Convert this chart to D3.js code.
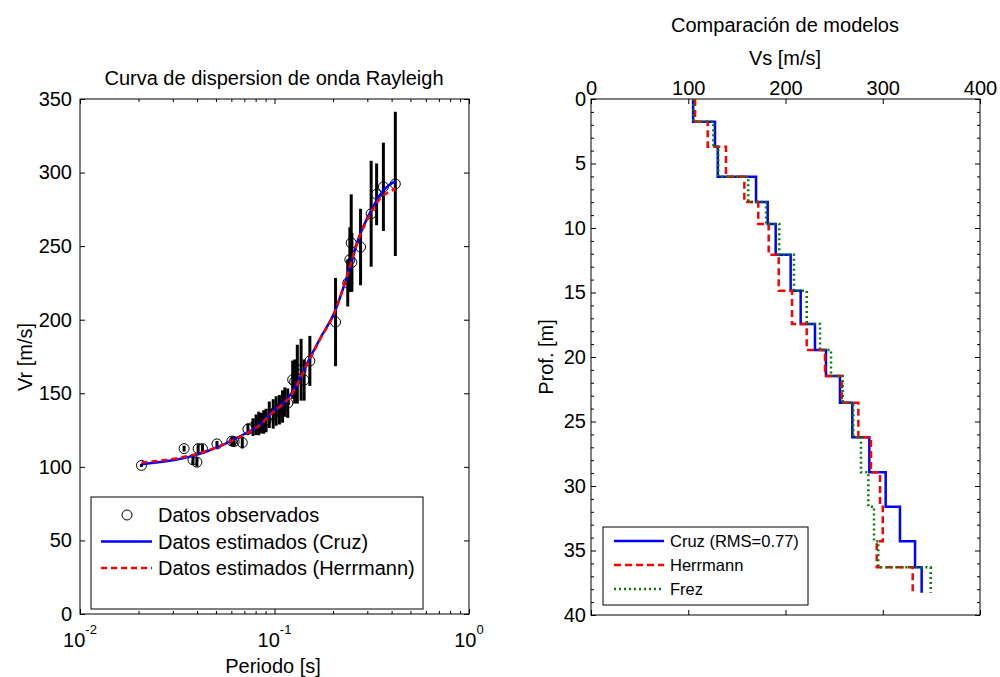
<!DOCTYPE html>
<html>
<script src="https://d3js.org/d3.v7.min.js"></script>

<head>
    <style>
        body {
            margin: 0;
            background-color: #ffffff;
        }

        svg {
            display: block;
        }

        text {
            font-family: "Liberation Sans", Arial, Helvetica, sans-serif;
            fill: #000;
        }
    </style>
</head>

<body>
</body>
<script>
    const width = 1000,
        height = 677;
    const svg = d3.select("body").append("svg").attr("width", width).attr("height", height);
    const FONT = '"Liberation Sans", Arial, Helvetica, sans-serif';

    // observed Rayleigh dispersion points (period [s], Vr [m/s], error bar half length)
    const periods = [0.0207, 0.0343, 0.0381, 0.0399, 0.0405, 0.0426, 0.0506, 0.0604, 0.0620, 0.0683,
        0.0730, 0.0775, 0.0804, 0.0830, 0.0855, 0.0880, 0.0905, 0.0940, 0.0985, 0.1020,
        0.1060, 0.1100, 0.1130, 0.1170, 0.1240, 0.1270, 0.1310, 0.1370, 0.1420, 0.1520,
        0.2060, 0.2380, 0.2440, 0.2480, 0.2500, 0.2770, 0.3140, 0.3350, 0.3630, 0.4180];
    const vrObs = [101, 112.4, 104.8, 103.2, 112.4, 112.4, 115.6, 117.5, 117.2, 116.5,
        125.6, 127, 128.6, 129.5, 129.7, 130.5, 131.5, 135.4, 136, 138,
        138.8, 141, 144, 143.3, 159.2, 158, 163, 166, 159, 172,
        198.4, 225, 240.8, 252.2, 239, 249.4, 272, 285.2, 290.3, 292.3];
    const vrErr = [1, 2, 3, 3, 3, 3, 2, 3, 3, 4,
        4, 6, 7, 8, 7, 8, 8, 9, 10, 10,
        10, 11, 10, 10, 13, 15, 20, 21, 14, 17,
        30, 16, 22, 33, 20, 26, 36, 21, 30, 49];

    // estimated dispersion curves
    const curvePeriods = [0.0207, 0.0447, 0.0689, 0.0838, 0.098, 0.119, 0.157, 0.170, 0.206, 0.233, 0.273, 0.319, 0.345, 0.404, 0.42];
    const vrCruz = [101.8, 110.4, 121.8, 128.6, 137.6, 147.8, 177.6, 186.2, 206.8, 227, 256.7, 276, 284, 293, 294];
    const vrHerrmann = [102.9, 110.8, 121.5, 128.2, 137.0, 147.0, 177, 185.8, 206.5, 227.5, 256, 274.5, 281.5, 288, 289];

    // shear velocity models (layer top depth [m], Vs [m/s])
    const layerTops = [0, 1.76, 3.7, 6.02, 7.98, 9.69, 12.07, 14.86, 17.44, 19.46, 21.47, 23.54, 26.22, 28.94, 31.6, 34.29, 36.3];
    const maxDepth = 38.27;
    const vsCruz = [105, 127.5, 130.3, 169.7, 181.7, 189.9, 205.3, 215.6, 230.3, 241.6, 256, 268.7, 286.2, 303, 317.7, 333.2, 340];
    const vsHerrmann = [107, 120, 138.8, 157.7, 172, 182.7, 193, 206.7, 221.8, 240.6, 257.8, 274.9, 287.9, 297.2, 300, 293.8, 330.8];
    const vsFrez = [105.5, 125.8, 130.9, 161.7, 180, 193.6, 208.7, 221.8, 235.5, 246.8, 258.8, 269.7, 277.6, 285.2, 291, 295.4, 349.3];

    const leftLegend = ["Datos observados", "Datos estimados (Cruz)", "Datos estimados (Herrmann)"];
    const rightLegend = ["Cruz (RMS=0.77)", "Herrmann", "Frez"];

    function styleAxis(g, size) {
        g.attr("font-family", FONT).attr("font-size", size);
        g.select(".domain").remove();
        g.selectAll("line").attr("stroke", "#000");
        g.selectAll("text").attr("fill", "#000");
    }

    // ---------- left: dispersion curve ----------
    const x1 = d3.scaleLog().domain([0.01, 1]).range([80, 469]);
    const y1 = d3.scaleLinear().domain([0, 350]).range([614, 99]);
    const vTicks = d3.range(0, 351, 50);
    const major = [0.01, 0.1, 1];
    const minor = x1.ticks().filter(t => !major.some(m => Math.abs(m - t) < 1e-9));

    svg.append("g").attr("transform", "translate(80,0)")
        .call(d3.axisLeft(y1).tickValues(vTicks).tickSize(-5).tickPadding(8))
        .call(g => styleAxis(g, 20));
    svg.append("g").attr("transform", "translate(469,0)")
        .call(d3.axisRight(y1).tickValues(vTicks).tickSize(-5).tickFormat(""))
        .call(g => styleAxis(g, 20));
    [[d3.axisBottom, 614], [d3.axisTop, 99]].forEach(([ax, yy]) => {
        svg.append("g").attr("transform", `translate(0,${yy})`)
            .call(ax(x1).tickValues(major).tickSize(-5).tickFormat(""))
            .call(g => styleAxis(g, 20));
        svg.append("g").attr("transform", `translate(0,${yy})`)
            .call(ax(x1).tickValues(minor).tickSize(-3).tickFormat(""))
            .call(g => styleAxis(g, 20));
    });
    major.forEach(m => {
        const t = svg.append("text")
            .attr("x", x1(m))
            .attr("y", 647)
            .attr("text-anchor", "middle")
            .attr("font-size", 20);
        t.append("tspan").text("10");
        t.append("tspan").attr("font-size", 13).attr("dy", -13).text(Math.round(Math.log10(m)));
    });

    svg.append("rect")
        .attr("x", 80).attr("y", 99).attr("width", 389).attr("height", 515)
        .attr("fill", "none").attr("stroke", "#000").attr("stroke-width", 1);

    const obs = d3.zip(periods, vrObs, vrErr);
    svg.append("g").selectAll("line")
        .data(obs)
        .enter()
        .append("line")
        .attr("x1", d => x1(d[0])).attr("x2", d => x1(d[0]))
        .attr("y1", d => y1(d[1] - d[2])).attr("y2", d => y1(d[1] + d[2]))
        .attr("stroke", "#000")
        .attr("stroke-width", 3);
    svg.append("g").selectAll("circle")
        .data(obs)
        .enter()
        .append("circle")
        .attr("cx", d => x1(d[0]))
        .attr("cy", d => y1(d[1]))
        .attr("r", 5)
        .attr("fill", "none")
        .attr("stroke", "#000")
        .attr("stroke-width", 1);

    const curveLine = d3.line()
        .x(d => x1(d[0]))
        .y(d => y1(d[1]))
        .curve(d3.curveMonotoneX);
    svg.append("path")
        .attr("d", curveLine(d3.zip(curvePeriods, vrCruz)))
        .attr("fill", "none").attr("stroke", "#0000ff").attr("stroke-width", 2.5);
    svg.append("path")
        .attr("d", curveLine(d3.zip(curvePeriods, vrHerrmann)))
        .attr("fill", "none").attr("stroke", "#ff0000").attr("stroke-width", 2.5)
        .attr("stroke-dasharray", "6,4");

    svg.append("text").attr("x", 274).attr("y", 85).attr("text-anchor", "middle")
        .attr("font-size", 20).text("Curva de dispersion de onda Rayleigh");
    svg.append("text").attr("x", 273).attr("y", 673).attr("text-anchor", "middle")
        .attr("font-size", 20).text("Periodo [s]");
    svg.append("text").attr("transform", "translate(32,357) rotate(-90)").attr("text-anchor", "middle")
        .attr("font-size", 20).text("Vr [m/s]");

    // legend
    const lg = svg.append("g");
    lg.append("rect").attr("x", 91).attr("y", 497).attr("width", 332).attr("height", 112)
        .attr("fill", "#fff").attr("stroke", "#000").attr("stroke-width", 1);
    leftLegend.forEach((label, i) => {
        const yy = 515 + i * 26.5;
        if (i === 0) {
            lg.append("circle").attr("cx", 127).attr("cy", yy).attr("r", 5)
                .attr("fill", "none").attr("stroke", "#000");
        } else {
            lg.append("line").attr("x1", 101).attr("x2", 152).attr("y1", yy).attr("y2", yy)
                .attr("stroke", i === 1 ? "#0000ff" : "#ff0000").attr("stroke-width", 2.5)
                .attr("stroke-dasharray", i === 1 ? null : "6,4");
        }
        lg.append("text").attr("x", 158).attr("y", yy).attr("dy", "0.35em")
            .attr("font-size", 20).text(label);
    });

    // ---------- right: model comparison ----------
    const x2 = d3.scaleLinear().domain([0, 400]).range([591, 980]);
    const y2 = d3.scaleLinear().domain([0, 40]).range([99, 615]);
    const dMajor = d3.range(0, 41, 5);
    const dMinor = d3.range(0, 41).filter(d => d % 5 !== 0);

    svg.append("g").attr("transform", "translate(591,0)")
        .call(d3.axisLeft(y2).tickValues(dMajor).tickSize(-5).tickPadding(5))
        .call(g => styleAxis(g, 20));
    svg.append("g").attr("transform", "translate(591,0)")
        .call(d3.axisLeft(y2).tickValues(dMinor).tickSize(-3).tickFormat(""))
        .call(g => styleAxis(g, 20));
    svg.append("g").attr("transform", "translate(980,0)")
        .call(d3.axisRight(y2).tickValues(dMajor).tickSize(-5).tickFormat(""))
        .call(g => styleAxis(g, 20));
    svg.append("g").attr("transform", "translate(980,0)")
        .call(d3.axisRight(y2).tickValues(dMinor).tickSize(-3).tickFormat(""))
        .call(g => styleAxis(g, 20));
    svg.append("g").attr("transform", "translate(0,99)")
        .call(d3.axisTop(x2).tickValues(d3.range(0, 401, 100)).tickSize(-5).tickPadding(4))
        .call(g => styleAxis(g, 20));
    svg.append("g").attr("transform", "translate(0,615)")
        .call(d3.axisBottom(x2).tickValues(d3.range(0, 401, 100)).tickSize(-5).tickFormat(""))
        .call(g => styleAxis(g, 20));

    svg.append("rect")
        .attr("x", 591).attr("y", 99).attr("width", 389).attr("height", 516)
        .attr("fill", "none").attr("stroke", "#000").attr("stroke-width", 1);

    const stepLine = d3.line()
        .x(d => x2(d[0]))
        .y(d => y2(d[1]))
        .curve(d3.curveStepBefore);
    function profile(vs) {
        const pts = vs.map((v, i) => [v, layerTops[i]]);
        pts.push([vs[vs.length - 1], maxDepth]);
        return stepLine(pts);
    }
    const models = [
        { vs: vsCruz, color: "#0000ff", dash: null },
        { vs: vsHerrmann, color: "#ff0000", dash: "7,4" },
        { vs: vsFrez, color: "#008000", dash: "2,3" }
    ];
    models.forEach(m => {
        svg.append("path")
            .attr("d", profile(m.vs))
            .attr("fill", "none")
            .attr("stroke", m.color)
            .attr("stroke-width", 2.5)
            .attr("stroke-dasharray", m.dash);
    });

    svg.append("text").attr("x", 785).attr("y", 32).attr("text-anchor", "middle")
        .attr("font-size", 20).text("Comparación de modelos");
    svg.append("text").attr("x", 785).attr("y", 65).attr("text-anchor", "middle")
        .attr("font-size", 20).text("Vs [m/s]");
    svg.append("text").attr("transform", "translate(553,357) rotate(-90)").attr("text-anchor", "middle")
        .attr("font-size", 20).text("Prof. [m]");

    const rg = svg.append("g");
    rg.append("rect").attr("x", 603).attr("y", 527).attr("width", 205).attr("height", 78)
        .attr("fill", "#fff").attr("stroke", "#000").attr("stroke-width", 1);
    rightLegend.forEach((label, i) => {
        const yy = 541 + i * 24;
        rg.append("line").attr("x1", 614).attr("x2", 664).attr("y1", yy).attr("y2", yy)
            .attr("stroke", models[i].color).attr("stroke-width", 2.5)
            .attr("stroke-dasharray", models[i].dash);
        rg.append("text").attr("x", 670).attr("y", yy).attr("dy", "0.35em")
            .attr("font-size", 16.5).text(label);
    });
</script>

</html>
